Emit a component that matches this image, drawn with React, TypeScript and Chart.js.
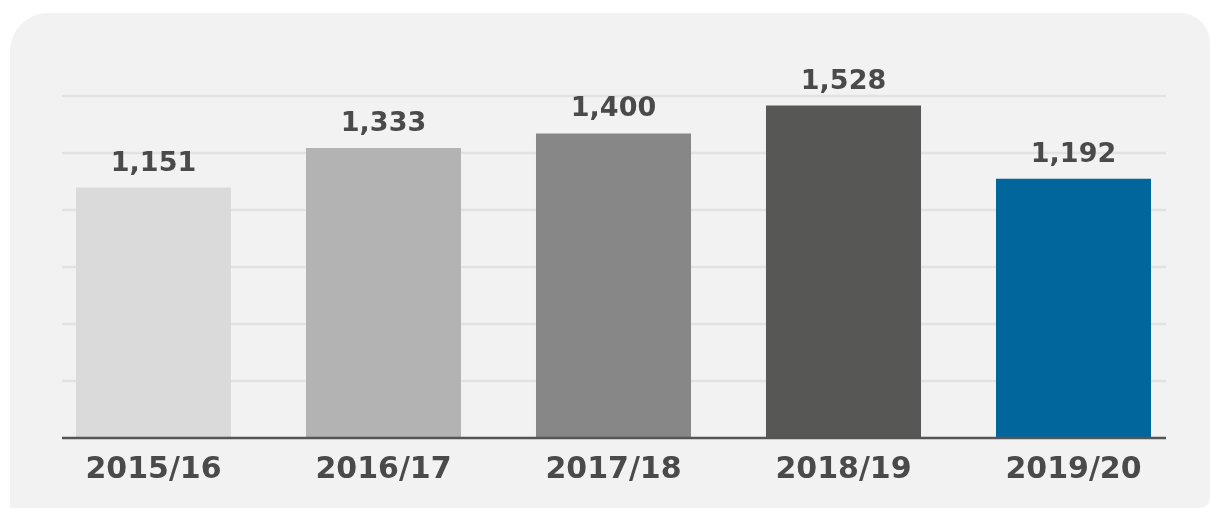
import React, { useEffect, useRef } from "react";
import { Chart, registerables } from "chart.js";

Chart.register(...registerables);

const categories = ["2015/16", "2016/17", "2017/18", "2018/19", "2019/20"];
const values = [1151, 1333, 1400, 1528, 1192];
const barColors = ["#dadada", "#b3b3b3", "#878787", "#575756", "#00669b"];
const axisMax = 1572;
const axisStep = 262;

const FONT = "'DejaVu Sans', sans-serif";
const TEXT = "#4a4a4a";

const gridPlugin = {
  id: "customGrid",
  beforeDatasetsDraw(chart: any) {
    const { ctx } = chart;
    const y = chart.scales.y;
    ctx.save();
    ctx.strokeStyle = "#e2e2e2";
    ctx.lineWidth = 2.5;
    y.ticks.forEach((t: any) => {
      if (t.value === 0) return;
      const py = y.getPixelForValue(t.value);
      ctx.beginPath();
      ctx.moveTo(62, py);
      ctx.lineTo(1166, py);
      ctx.stroke();
    });
    ctx.restore();
  },
  afterDatasetsDraw(chart: any) {
    const { ctx } = chart;
    const y = chart.scales.y;
    const py = y.getPixelForValue(0);
    ctx.save();
    ctx.strokeStyle = "#555555";
    ctx.lineWidth = 2.5;
    ctx.beginPath();
    ctx.moveTo(62, py);
    ctx.lineTo(1166, py);
    ctx.stroke();
    const meta = chart.getDatasetMeta(0);
    ctx.fillStyle = TEXT;
    ctx.font = `bold 27px ${FONT}`;
    ctx.textAlign = "center";
    ctx.textBaseline = "alphabetic";
    meta.data.forEach((bar: any, i: number) => {
      ctx.fillText(values[i].toLocaleString("en-US"), bar.x, bar.y - 17);
    });
    ctx.restore();
  },
};

export default function App() {
  const ref = useRef<HTMLCanvasElement | null>(null);
  useEffect(() => {
    if (!ref.current) return;
    const chart = new Chart(ref.current, {
      type: "bar",
      data: {
        labels: categories,
        datasets: [
          {
            data: values,
            backgroundColor: barColors,
            borderWidth: 0,
            barPercentage: 0.674,
            categoryPercentage: 1,
          },
        ],
      },
      options: {
        responsive: false,
        animation: false,
        devicePixelRatio: 1,
        layout: { padding: { left: 38.5, right: 21.5, top: 96, bottom: 15 } },
        plugins: { legend: { display: false }, tooltip: { enabled: false } },
        scales: {
          x: {
            grid: { display: false },
            border: { display: false },
            ticks: {
              color: TEXT,
              font: { family: FONT, weight: "bold", size: 30 },
              padding: 6,
            },
          },
          y: {
            display: false,
            min: 0,
            max: axisMax,
            ticks: { stepSize: axisStep },
          },
        },
      },
      plugins: [gridPlugin],
    });
    return () => chart.destroy();
  }, []);
  return (
    <div style={{ position: "fixed", left: 0, top: 0, width: 1210, height: 509, background: "#ffffff", overflow: "hidden" }}>
      <div
        style={{
          position: "absolute",
          left: 10,
          top: 13,
          width: 1200,
          height: 495,
          background: "#f2f2f2",
          borderRadius: "38px 30px 10px 0",
        }}
      />
      <canvas ref={ref} width={1210} height={509} style={{ position: "absolute", left: 0, top: 0 }} />
    </div>
  );
}
